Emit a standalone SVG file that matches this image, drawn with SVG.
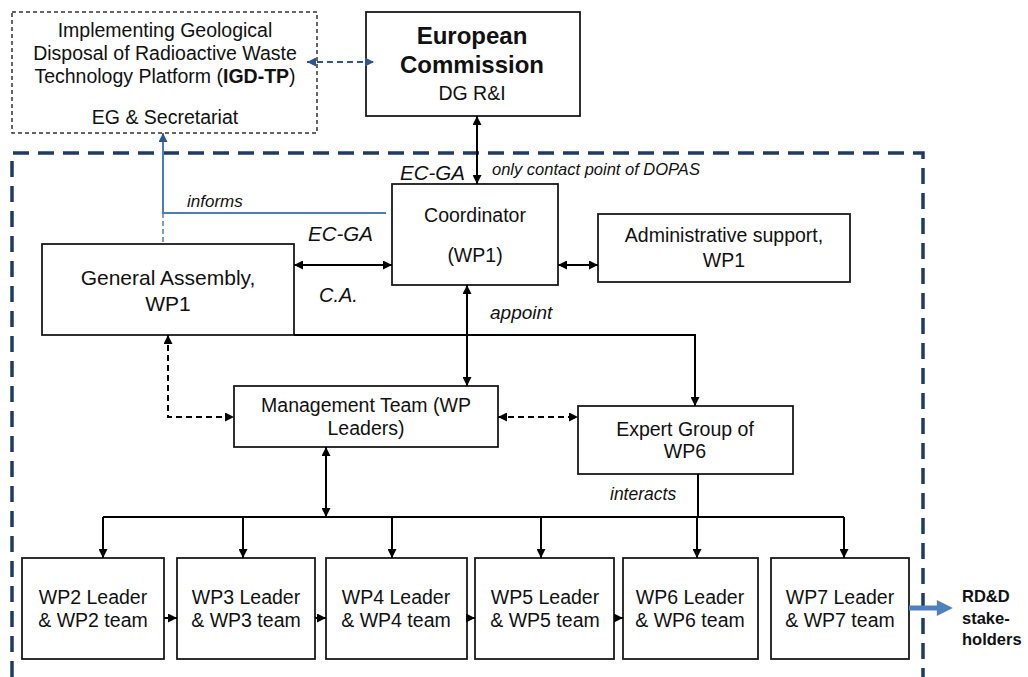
<svg xmlns="http://www.w3.org/2000/svg" width="1028" height="677" viewBox="0 0 1028 677">
<style>
.box{fill:#fff;stroke:#1a1a1a;stroke-width:1.8}
.t{font-family:"Liberation Sans",Arial,sans-serif;font-size:19.5px;fill:#111;text-anchor:middle}
.tb{font-size:24px;font-weight:bold}
.tl{font-size:21px}
.i{font-family:"Liberation Sans",Arial,sans-serif;font-style:italic;fill:#111}
.c{fill:none;stroke:#000;stroke-width:2}
.d{fill:none;stroke:#000;stroke-width:2;stroke-dasharray:6 4}
.border{fill:none;stroke:#1F3B63;stroke-width:3.5;stroke-dasharray:16 9}
.rd{font-family:"Liberation Sans",Arial,sans-serif;font-weight:bold;font-size:16.5px;fill:#111}
</style>
<defs>
<marker id="ah" viewBox="0 0 10 10" refX="10" refY="5" markerUnits="userSpaceOnUse" markerWidth="9" markerHeight="9" orient="auto-start-reverse"><path d="M0,0 L10,5 L0,10 z" fill="#000"/></marker>
<marker id="ab" viewBox="0 0 10 10" refX="10" refY="5" markerUnits="userSpaceOnUse" markerWidth="9" markerHeight="9" orient="auto-start-reverse"><path d="M0,0 L10,5 L0,10 z" fill="#2F5597"/></marker>
<marker id="big" viewBox="0 0 10 10" refX="2" refY="5" markerUnits="userSpaceOnUse" markerWidth="17" markerHeight="16" orient="auto"><path d="M0,0 L10,5 L0,10 z" fill="#4F81BD"/></marker>
</defs>
<rect width="1028" height="677" fill="#fff"/>

<g id="project-boundary">
<path class="border" d="M12,677 V153 H923 V677"/>
</g>

<g id="igd-tp">
<rect x="12" y="12" width="305" height="121" fill="#fff" stroke="#333" stroke-width="1.5" stroke-dasharray="4 3"/>
<text class="t" x="165" y="37">Implementing Geological</text>
<text class="t" x="165" y="60">Disposal of Radioactive Waste</text>
<text class="t" x="165" y="83">Technology Platform (<tspan font-weight="bold">IGD-TP</tspan>)</text>
<text class="t" x="165" y="124">EG &amp; Secretariat</text>
</g>

<g id="european-commission">
<rect class="box" x="366" y="12" width="214" height="104"/>
<text class="t tb" x="472" y="44">European</text>
<text class="t tb" x="472" y="73">Commission</text>
<text class="t" x="472" y="100">DG R&amp;I</text>
</g>

<g id="coordinator">
<rect class="box" x="392" y="184" width="166" height="101"/>
<text class="t" x="475" y="222">Coordinator</text>
<text class="t" x="475" y="262">(WP1)</text>
</g>

<g id="admin-support">
<rect class="box" x="598" y="214" width="252" height="68"/>
<text class="t" x="724" y="242">Administrative support,</text>
<text class="t" x="724" y="267">WP1</text>
</g>

<g id="general-assembly">
<rect class="box" x="42" y="244" width="252" height="91"/>
<text class="t tl" x="168" y="285">General Assembly,</text>
<text class="t tl" x="168" y="311">WP1</text>
</g>

<g id="management-team">
<rect class="box" x="234" y="386" width="264" height="61"/>
<text class="t" x="366" y="412">Management Team (WP</text>
<text class="t" x="366" y="435">Leaders)</text>
</g>

<g id="expert-group">
<rect class="box" x="578" y="406" width="215" height="68"/>
<text class="t" x="685" y="436">Expert Group of</text>
<text class="t" x="685" y="458">WP6</text>
</g>

<g id="wp2">
<rect class="box" x="22" y="558" width="142" height="101"/>
<text class="t" x="93" y="604">WP2 Leader</text>
<text class="t" x="93" y="627">&amp; WP2 team</text>
</g>
<g id="wp3">
<rect class="box" x="177" y="558" width="138" height="101"/>
<text class="t" x="246" y="604">WP3 Leader</text>
<text class="t" x="246" y="627">&amp; WP3 team</text>
</g>
<g id="wp4">
<rect class="box" x="326" y="558" width="141" height="101"/>
<text class="t" x="396" y="604">WP4 Leader</text>
<text class="t" x="396" y="627">&amp; WP4 team</text>
</g>
<g id="wp5">
<rect class="box" x="475" y="558" width="139" height="101"/>
<text class="t" x="545" y="604">WP5 Leader</text>
<text class="t" x="545" y="627">&amp; WP5 team</text>
</g>
<g id="wp6">
<rect class="box" x="623" y="558" width="135" height="101"/>
<text class="t" x="690" y="604">WP6 Leader</text>
<text class="t" x="690" y="627">&amp; WP6 team</text>
</g>
<g id="wp7">
<rect class="box" x="771" y="558" width="138" height="101"/>
<text class="t" x="840" y="604">WP7 Leader</text>
<text class="t" x="840" y="627">&amp; WP7 team</text>
</g>

<g id="rdd-stakeholders">
<text class="rd" x="962" y="602">RD&amp;D</text>
<text class="rd" x="962" y="624">stake-</text>
<text class="rd" x="962" y="645">holders</text>
</g>

<g id="connectors">
<path d="M307,62 H374" fill="none" stroke="#2F5597" stroke-width="1.8" stroke-dasharray="6 4" marker-start="url(#ab)" marker-end="url(#ab)"/>
<path class="c" d="M477,116 V184" marker-start="url(#ah)" marker-end="url(#ah)"/>
<path d="M386,213 H163 V133" fill="none" stroke="#4A7EBB" stroke-width="2" marker-end="url(#ab)"/>
<path d="M163,213 V244" fill="none" stroke="#4A7EBB" stroke-width="1.5" stroke-dasharray="5 3"/>
<path class="c" d="M294,265 H392" marker-start="url(#ah)" marker-end="url(#ah)"/>
<path class="c" d="M558,265 H598" marker-start="url(#ah)" marker-end="url(#ah)"/>
<path class="c" d="M467,285 V386" marker-start="url(#ah)" marker-end="url(#ah)"/>
<path class="c" d="M294,335 H695 V406" marker-end="url(#ah)"/>
<path class="d" d="M168,335 V417 H234" marker-start="url(#ah)" marker-end="url(#ah)"/>
<path class="d" d="M498,417 H578" marker-start="url(#ah)" marker-end="url(#ah)"/>
<path class="c" d="M326,447 V517" marker-start="url(#ah)" marker-end="url(#ah)"/>
<path class="c" d="M103,517 H844"/>
<path class="c" d="M698,474 V517"/>
<path class="c" d="M103,517 V558" marker-end="url(#ah)"/>
<path class="c" d="M243,517 V558" marker-end="url(#ah)"/>
<path class="c" d="M392,517 V558" marker-end="url(#ah)"/>
<path class="c" d="M541,517 V558" marker-end="url(#ah)"/>
<path class="c" d="M697,517 V558" marker-end="url(#ah)"/>
<path class="c" d="M844,517 V558" marker-end="url(#ah)"/>
<path class="c" d="M164,618 H177" marker-end="url(#ah)"/>
<path class="c" d="M315,618 H326" marker-end="url(#ah)"/>
<path class="c" d="M467,618 H475" marker-end="url(#ah)"/>
<path class="c" d="M614,618 H623" marker-end="url(#ah)"/>
<path d="M909,608 H940" fill="none" stroke="#4F81BD" stroke-width="5" marker-end="url(#big)"/>
<text class="i" x="187" y="207" font-size="17">informs</text>
<text class="i" x="400" y="180" font-size="20.5">EC-GA</text>
<text class="i" x="492" y="175" font-size="16.5">only contact point of DOPAS</text>
<text class="i" x="308" y="241" font-size="20.5">EC-GA</text>
<text class="i" x="319" y="302" font-size="20">C.A.</text>
<text class="i" x="490" y="319" font-size="19">appoint</text>
<text class="i" x="610" y="500" font-size="17.5">interacts</text>
</g>
</svg>
